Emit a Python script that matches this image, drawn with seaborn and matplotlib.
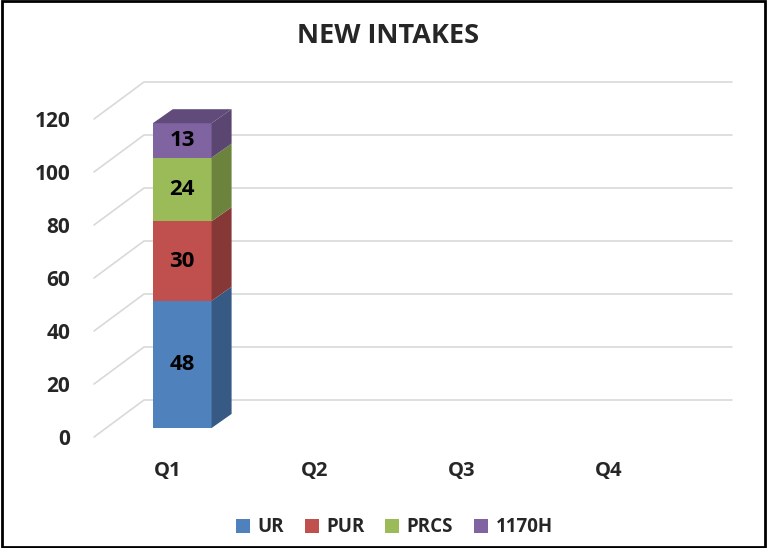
import numpy as np
import matplotlib
matplotlib.use('Agg')
import matplotlib.pyplot as plt
from matplotlib.patches import Polygon, Rectangle, Patch
from matplotlib.colors import to_rgb
import seaborn as sns

# datos del grafico
trimestres = ['Q1', 'Q2', 'Q3', 'Q4']
series = ['UR', 'PUR', 'PRCS', '1170H']
ur = [48, 0, 0, 0]
pur = [30, 0, 0, 0]
prcs = [24, 0, 0, 0]
h1170 = [13, 0, 0, 0]
marcas_y = [0, 20, 40, 60, 80, 100, 120]
colores = ['#4F81BD', '#C0504D', '#9BBB59', '#8064A2']

sns.set_style('white')
plt.rcParams['font.family'] = ['Open Sans', 'DejaVu Sans']
plt.rcParams['font.weight'] = 'bold'


def oscurecer(c, f):
    r, g, b = to_rgb(c)
    return (r * f, g * f, b * f)


fig = plt.figure(figsize=(7.67, 5.48), dpi=100)
ax = fig.add_axes([94 / 767, 111 / 548, 588 / 767, 318 / 548])

# profundidad del piso / pared (unidades de datos)
prof_x, prof_y = 0.34, 13.96
# corrimiento de la barra dentro del piso y grosor del costado
corr_x, corr_y = 0.10, 3.4
lado_x, lado_y = 0.136, 5.3

# grilla en perspectiva
for v in marcas_y:
    ax.plot([-0.5, -0.5 + prof_x, 3.5 + prof_x], [v, v + prof_y, v + prof_y],
            color='#D9D9D9', lw=1.2, clip_on=False, zorder=0)

capas = [ur, pur, prcs, h1170]
base = np.zeros(len(trimestres))
ultimas = {}
for nombre, vals, col in zip(series, capas, colores):
    vals = np.array(vals, dtype=float)
    n0 = len(ax.patches)
    sns.barplot(x=trimestres, y=vals, bottom=base + corr_y, width=0.4, color=col,
                saturation=1, errorbar=None, ax=ax, zorder=3, linewidth=0)
    nuevas = ax.patches[n0:]
    for i, p in enumerate(nuevas):
        h = p.get_height()
        if h <= 0:
            continue
        p.set_x(p.get_x() + corr_x)
        x0 = p.get_x()
        x1 = x0 + p.get_width()
        y0 = p.get_y()
        y1 = y0 + h
        costado = Polygon([(x1, y0), (x1 + lado_x, y0 + lado_y),
                           (x1 + lado_x, y1 + lado_y), (x1, y1)],
                          closed=True, fc=oscurecer(col, 0.7), ec='none',
                          zorder=3, clip_on=False)
        ax.add_patch(costado)
        ax.text((x0 + x1) / 2, (y0 + y1) / 2, f'{int(h)}', ha='center', va='center',
                fontsize=16, fontweight='bold', color='black', zorder=5)
        ultimas[i] = (x0, x1, y1, col)
    base = base + vals

# tapa superior de cada barra
for i, (x0, x1, y1, col) in ultimas.items():
    tapa = Polygon([(x0, y1), (x1, y1), (x1 + lado_x, y1 + lado_y), (x0 + lado_x, y1 + lado_y)],
                   closed=True, fc=oscurecer(col, 0.75), ec='none', zorder=4, clip_on=False)
    ax.add_patch(tapa)

ax.set_xlim(-0.5, 3.5)
ax.set_ylim(0, 120)
ax.set_yticks(marcas_y)
ax.set_xlabel('')
ax.set_ylabel('')
ax.tick_params(axis='y', length=0, pad=17, labelsize=15)
ax.tick_params(axis='x', length=0, pad=17, labelsize=14.5)
for lab in ax.get_xticklabels() + ax.get_yticklabels():
    lab.set_fontweight('bold')
for s in ax.spines.values():
    s.set_visible(False)

fig.text(0.506, 1 - 36 / 548, 'NEW INTAKES', ha='center', va='center',
         fontsize=19.5, fontweight='bold')

manijas = [Patch(facecolor=c, edgecolor='none') for c in colores]
fig.legend(manijas, series, loc='center', bbox_to_anchor=(0.514, 0.038), ncol=4,
           frameon=False, handlelength=0.75, handleheight=0.75, handletextpad=0.4,
           columnspacing=1.1, prop={'size': 13.5, 'weight': 'bold'})

fig.patches.append(Rectangle((0.002, 0.002), 0.996, 0.996, transform=fig.transFigure,
                             fill=False, lw=2, ec='black'))

fig.savefig('out.png', dpi=100)
